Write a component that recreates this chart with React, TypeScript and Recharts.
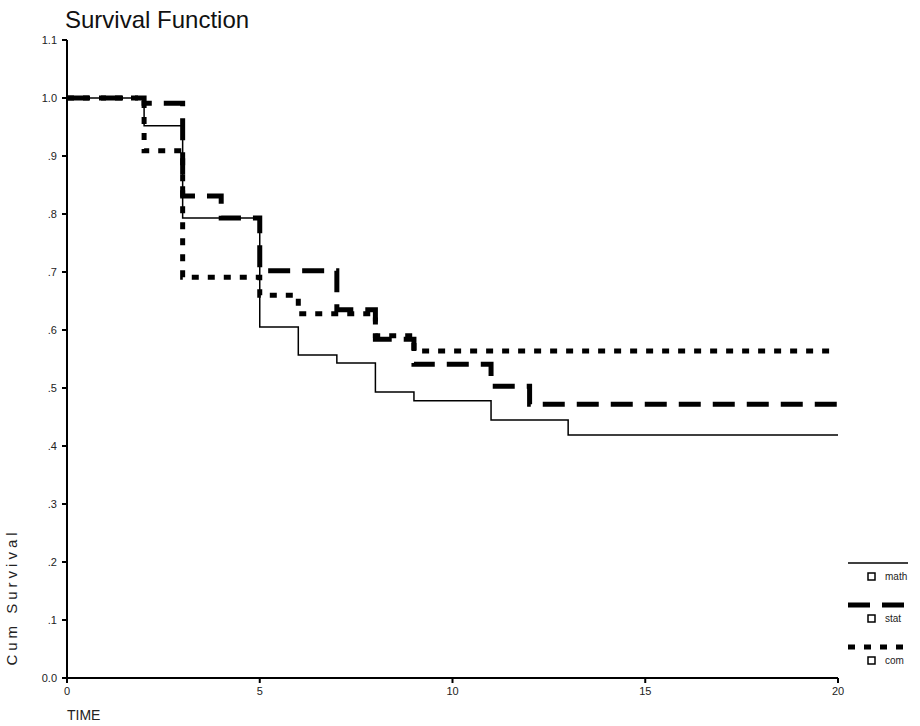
import { LineChart, Line, XAxis, YAxis } from 'recharts';

// Kaplan-Meier step points
const mathTimes = [0, 2, 3, 5, 6, 7, 8, 9, 11, 13, 20];
const mathSurv = [1.0, 0.952, 0.793, 0.605, 0.557, 0.543, 0.493, 0.478, 0.445, 0.419, 0.419];

const statTimes = [0, 2, 3, 4, 5, 7, 8, 9, 11, 12, 20];
const statSurv = [1.0, 0.991, 0.831, 0.793, 0.702, 0.635, 0.584, 0.541, 0.503, 0.472, 0.472];

const comTimes = [0, 2, 3, 5, 6, 8, 9, 20];
const comSurv = [1.0, 0.909, 0.691, 0.66, 0.628, 0.59, 0.564, 0.564];

const xTicks = [0, 5, 10, 15, 20];
const yTicks = [0, 0.1, 0.2, 0.3, 0.4, 0.5, 0.6, 0.7, 0.8, 0.9, 1.0, 1.1];

const font = '"Liberation Sans Narrow", "Liberation Sans", Arial, sans-serif';

const series = [
  { name: 'math', times: mathTimes, surv: mathSurv, width: 1.5, dash: undefined as string | undefined },
  { name: 'stat', times: statTimes, surv: statSurv, width: 5, dash: '22 12' },
  { name: 'com', times: comTimes, surv: comSurv, width: 5, dash: '7 9' },
];

const toPoints = (times: number[], surv: number[]) =>
  times.map((t, i) => ({ time: t, surv: surv[i] }));

const fmtY = (v: number) => {
  if (v === 0) return '0.0';
  if (v >= 1) return v.toFixed(1);
  return '.' + Math.round(v * 10);
};

// legend drawn by hand, recharts' Legend would eat plot space
function SurvLegend() {
  return (
    <svg width={72} height={125} style={{ position: 'absolute', left: 848, top: 557, display: 'block' }}>
      {series.map((s, i) => {
        const y = i * 42;
        return (
          <g key={s.name}>
            <line
              x1={0}
              x2={60}
              y1={y + 6}
              y2={y + 6}
              stroke="#000"
              strokeWidth={s.width}
              strokeDasharray={s.dash}
            />
            <rect x={20} y={y + 16} width={7} height={7} fill="#fff" stroke="#000" strokeWidth={1.5} />
            <text x={37} y={y + 23} fontSize={10} fontFamily={font} fill="#222">
              {s.name}
            </text>
          </g>
        );
      })}
    </svg>
  );
}

export default function App() {
  return (
    <div style={{ position: 'absolute', left: 0, top: 0, width: 920, height: 726, background: '#fff', fontFamily: font }}>
      <div style={{ position: 'absolute', left: 65, top: 6, fontSize: 24, lineHeight: '28px', fontFamily: '"Liberation Sans", Arial, sans-serif', color: '#111' }}>
        Survival Function
      </div>
      <div
        style={{
          position: 'absolute',
          left: 11,
          top: 597,
          transform: 'translate(-50%, -50%) rotate(-90deg)',
          fontSize: 15,
          letterSpacing: 4,
          whiteSpace: 'nowrap',
          fontFamily: '"Liberation Sans", Arial, sans-serif',
          color: '#222',
        }}
      >
        Cum Survival
      </div>
      <div style={{ position: 'absolute', left: 67, top: 707, fontSize: 14, lineHeight: '16px', color: '#222' }}>
        TIME
      </div>
      <LineChart width={920} height={726} margin={{ top: 40, right: 82, bottom: 18, left: 27 }}>
        <XAxis
          xAxisId="bottom"
          dataKey="time"
          type="number"
          domain={[0, 20]}
          ticks={xTicks}
          height={30}
          stroke="#000"
          strokeWidth={2}
          tickSize={5}
          tickMargin={4}
          tick={{ fontSize: 11, fill: '#222', fontFamily: font }}
          allowDuplicatedCategory={false}
        />
        <XAxis
          xAxisId="top"
          orientation="top"
          dataKey="time"
          type="number"
          domain={[0, 20]}
          height={0}
          tick={false}
          tickLine={false}
          stroke="#000"
          strokeWidth={2}
          allowDuplicatedCategory={false}
        />
        <YAxis
          yAxisId="left"
          type="number"
          domain={[0, 1.1]}
          ticks={yTicks}
          tickFormatter={fmtY}
          width={40}
          stroke="#000"
          strokeWidth={2}
          tickSize={5}
          tickMargin={5}
          interval={0}
          tick={{ fontSize: 11, fill: '#222', fontFamily: font }}
        />
        <YAxis
          yAxisId="right"
          orientation="right"
          type="number"
          domain={[0, 1.1]}
          width={0}
          tick={false}
          tickLine={false}
          stroke="#000"
          strokeWidth={2}
        />
        {series.map((s) => (
          <Line
            key={s.name}
            xAxisId="bottom"
            yAxisId="left"
            data={toPoints(s.times, s.surv)}
            dataKey="surv"
            name={s.name}
            type="stepAfter"
            stroke="#000"
            strokeWidth={s.width}
            strokeDasharray={s.dash}
            dot={false}
            activeDot={false}
            isAnimationActive={false}
          />
        ))}
      </LineChart>
      <SurvLegend />
    </div>
  );
}
